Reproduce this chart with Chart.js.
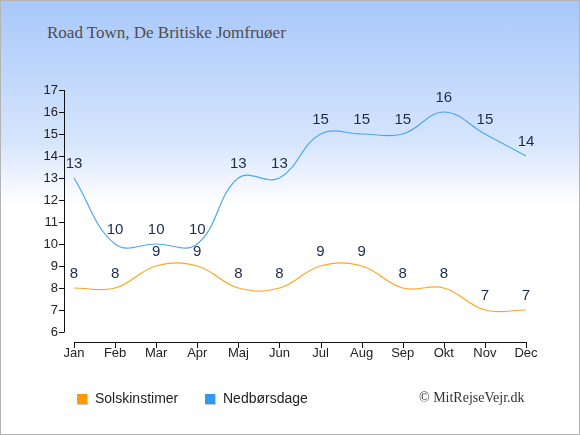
<!DOCTYPE html>
<html>
<head>
<meta charset="utf-8">
<script src="https://cdn.jsdelivr.net/npm/chart.js@4"></script>
<style>
  html, body { margin: 0; padding: 0; }
  #wrap {
    position: relative; width: 580px; height: 435px; box-sizing: border-box;
    border: 1px solid #b4b4b4;
    background: linear-gradient(to bottom, #a8c8fa 0px, #d6e5fd 140px, #ffffff 205px);
    font-family: "Liberation Sans", Arial, sans-serif;
  }
  #title { position: absolute; left: 46px; top: 22px; font: 17px "Liberation Serif", serif; color: #4d4d4d; }
  #graf { position: absolute; left: 0; top: 0; }
  .leg { position: absolute; top: 389px; font-size: 14px; color: #222; }
  .leg i { display: inline-block; width: 10px; height: 10px; margin-right: 8px; vertical-align: -1px; box-shadow: 1px 1px 1px #ccc; }
  #copy { position: absolute; left: 418px; top: 389px; font: 14px "Liberation Serif", serif; color: #333; }
</style>
</head>
<body>
<div id="wrap">
  <div id="title">Road Town, De Britiske Jomfruøer</div>
  <canvas id="graf" width="578" height="433"></canvas>
  <div class="leg" style="left:76px"><i style="background:#ff9900"></i>Solskinstimer</div>
  <div class="leg" style="left:204px"><i style="background:#3399ee"></i>Nedbørsdage</div>
  <div id="copy">© MitRejseVejr.dk</div>
</div>
<script>
const maaneder = ["Jan", "Feb", "Mar", "Apr", "Maj", "Jun", "Jul", "Aug", "Sep", "Okt", "Nov", "Dec"]
const solskin = [8, 8, 9, 9, 8, 8, 9, 9, 8, 8, 7, 7]
const nedbor = [13, 10, 10, 10, 13, 13, 15, 15, 15, 16, 15, 14]
const yTicks = [6, 7, 8, 9, 10, 11, 12, 13, 14, 15, 16, 17]

// egne akser, forskudt fra plotområdet
const akser = {
    id: 'akser',
    afterDraw(chart) {
        const ctx = chart.ctx
        const x = chart.scales.x, y = chart.scales.y
        const ax = chart.chartArea.left - 10
        const ay = chart.chartArea.bottom + 10
        ctx.save()
        ctx.strokeStyle = '#111'
        ctx.lineWidth = 1
        ctx.beginPath()
        ctx.moveTo(ax + 0.5, y.getPixelForValue(17))
        ctx.lineTo(ax + 0.5, y.getPixelForValue(6))
        yTicks.forEach(v => {
            const p = Math.round(y.getPixelForValue(v)) + 0.5
            ctx.moveTo(ax - 5, p)
            ctx.lineTo(ax + 0.5, p)
        })
        ctx.moveTo(x.getPixelForValue(0), ay + 0.5)
        ctx.lineTo(x.getPixelForValue(11), ay + 0.5)
        maaneder.forEach((m, i) => {
            const p = Math.round(x.getPixelForValue(i)) + 0.5
            ctx.moveTo(p, ay)
            ctx.lineTo(p, ay + 6)
        })
        ctx.stroke()
        ctx.restore()
    }
}

const etiketter = {
    id: 'etiketter',
    afterDatasetsDraw(chart) {
        const ctx = chart.ctx
        ctx.save()
        ctx.font = '15px "Liberation Sans", Arial, sans-serif'
        ctx.fillStyle = '#1c2a4c'
        ctx.textAlign = 'center'
        ctx.textBaseline = 'middle'
        chart.data.datasets.forEach((ds, i) => {
            chart.getDatasetMeta(i).data.forEach((pt, j) => {
                ctx.fillText(ds.data[j], pt.x, pt.y - 14)
            })
        })
        ctx.restore()
    }
}

new Chart(document.getElementById("graf"), {
    type: 'line',
    data: {
        labels: maaneder,
        datasets: [
            {
                label: "Solskinstimer",
                borderColor: "#ffa425",
                borderWidth: 1.2,
                data: solskin
            }, {
                label: "Nedbørsdage",
                borderColor: "#4ea6ee",
                borderWidth: 1.2,
                data: nedbor
            }
        ]
    },
    options: {
        responsive: false,
        animation: false,
        layout: { padding: { left: 0, right: 53, top: 89, bottom: 0 } },
        elements: { point: { radius: 0 }, line: { tension: 0.4 } },
        plugins: { legend: { display: false }, tooltip: { enabled: false } },
        scales: {
            x: {
                offset: false,
                grid: { display: false, drawTicks: false },
                border: { display: false },
                ticks: { padding: 14, color: '#222', font: { size: 13, family: '"Liberation Sans", Arial' } },
                afterFit(s) { s.height = 102 }
            },
            y: {
                min: 6, max: 17,
                grid: { display: false, drawTicks: false },
                border: { display: false },
                ticks: { stepSize: 1, padding: 16, color: '#222', font: { size: 13, family: '"Liberation Sans", Arial' } },
                afterFit(s) { s.width = 73 }
            }
        }
    },
    plugins: [akser, etiketter]
});
</script>
</body>
</html>
